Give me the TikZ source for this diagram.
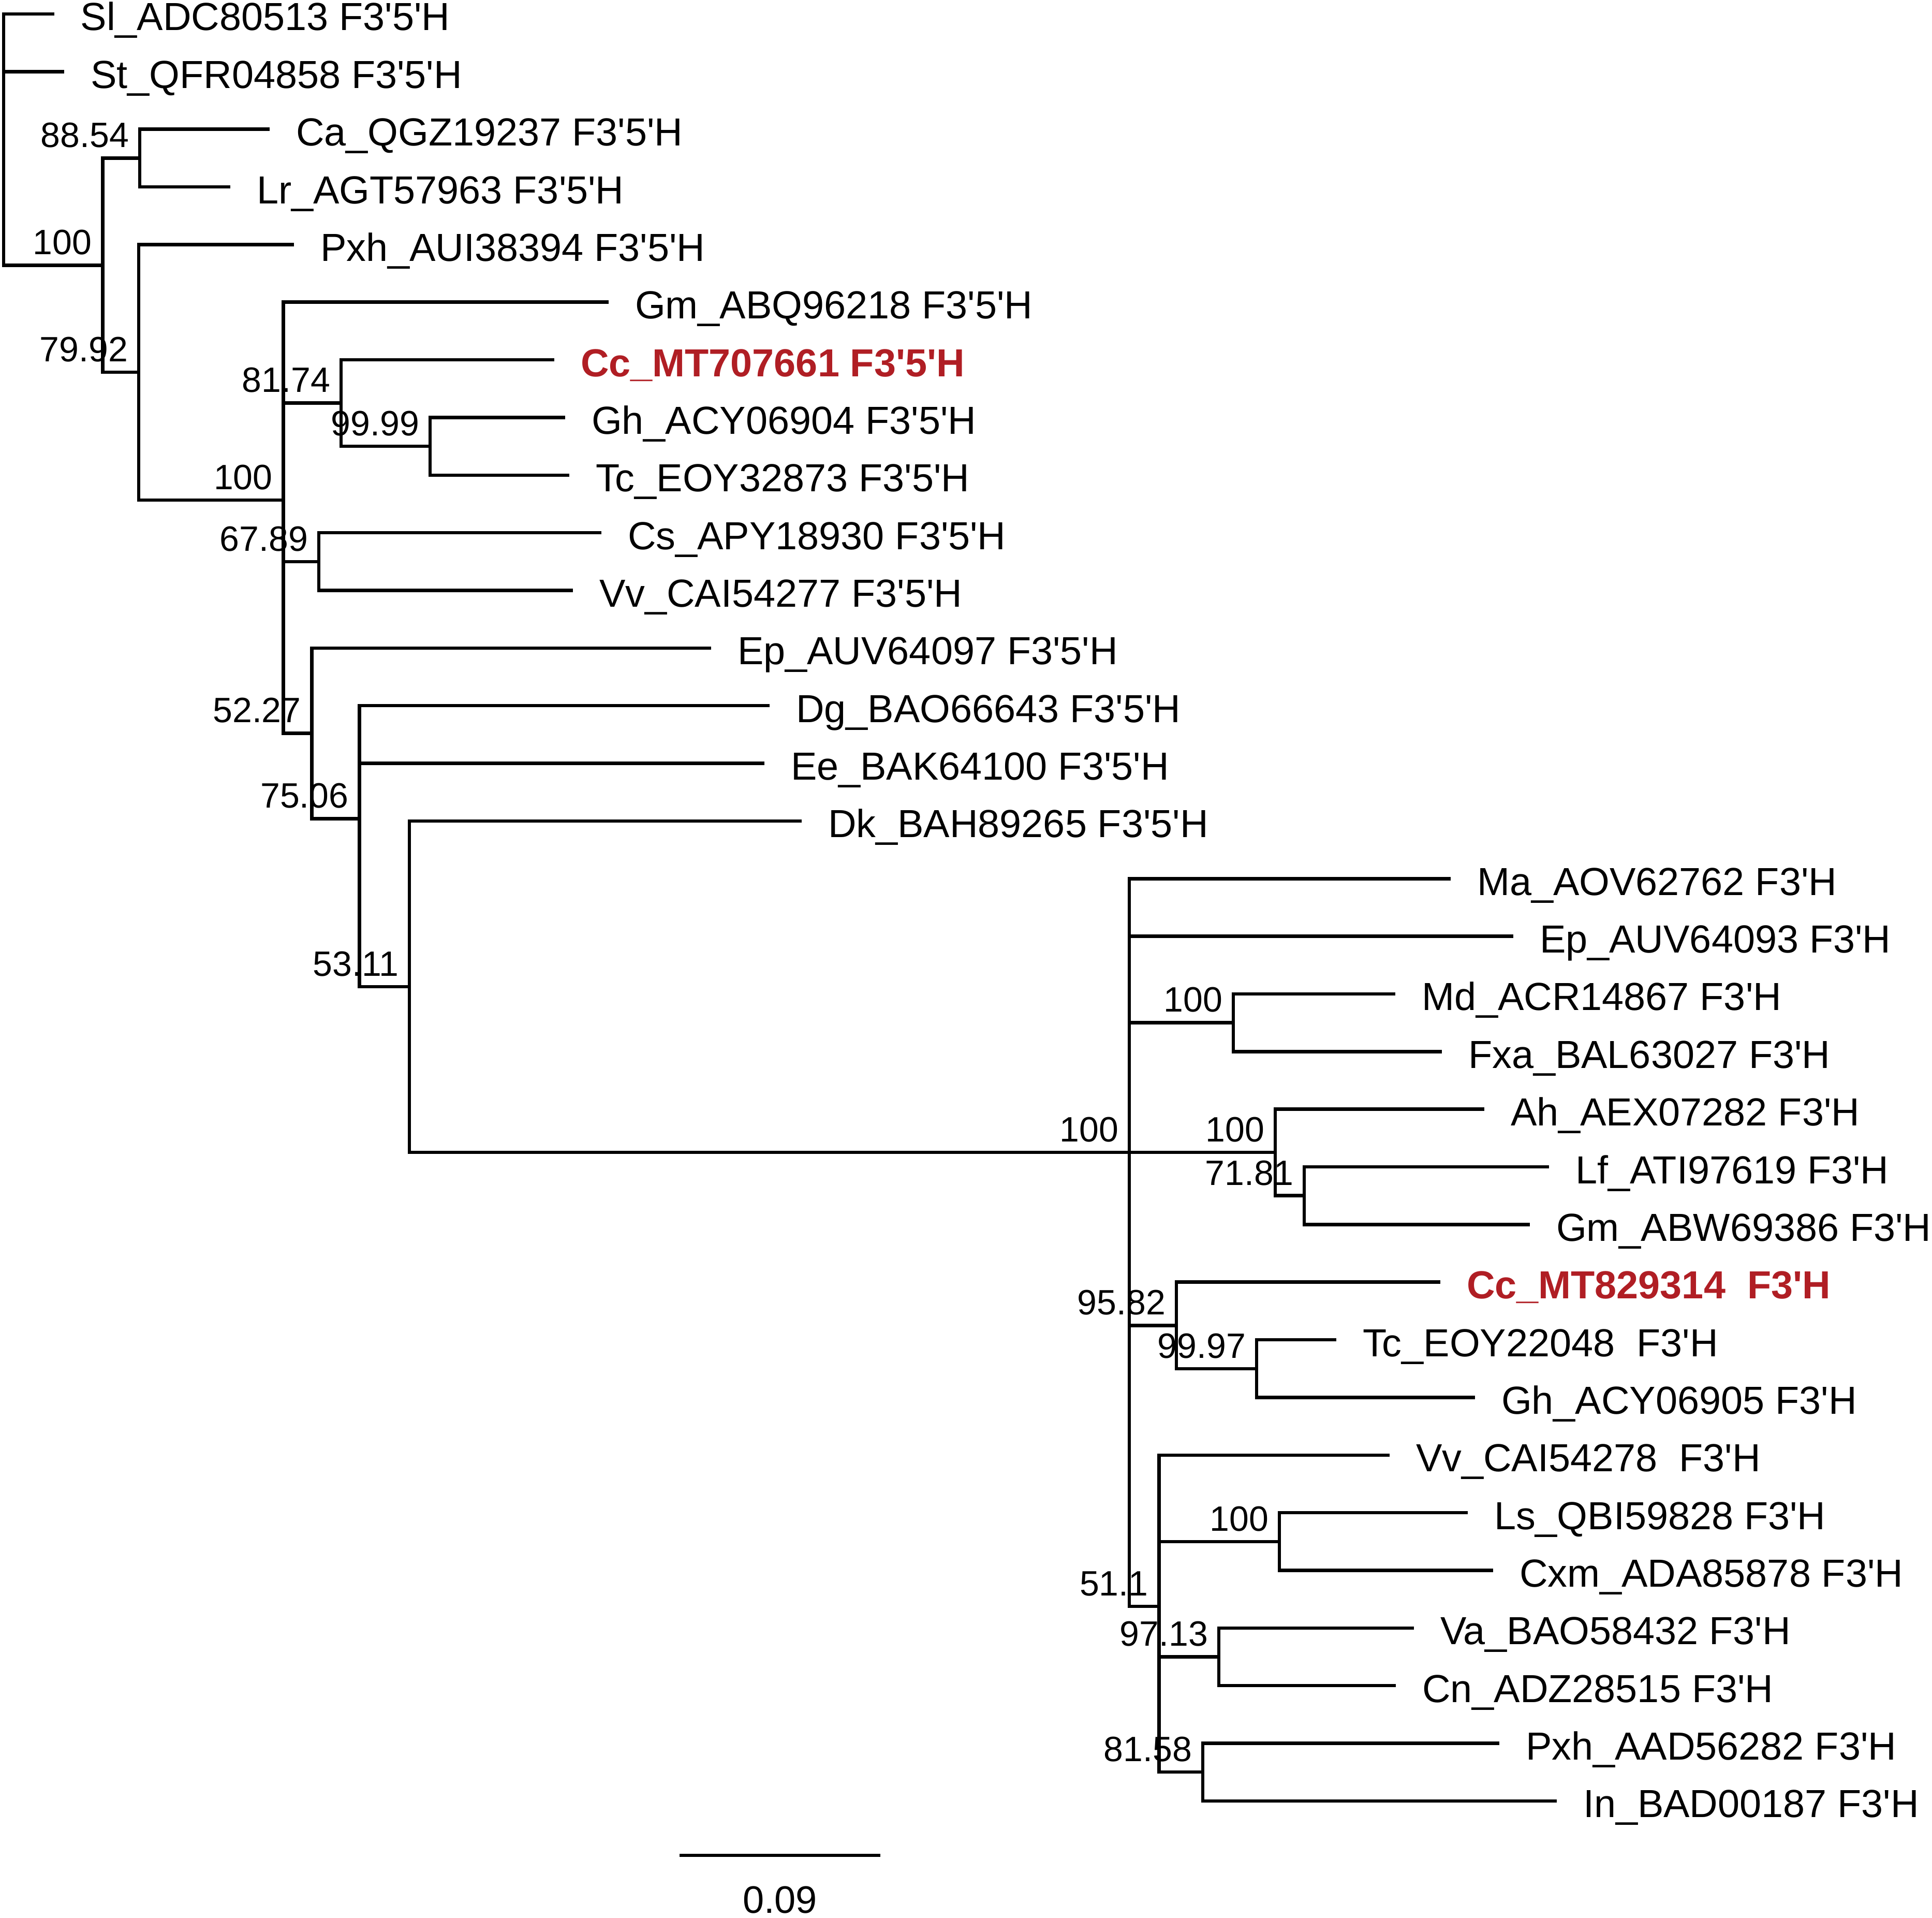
\documentclass[tikz,border=0pt]{standalone}
\usepackage{fontspec}
\setmainfont{Liberation Sans}[Ligatures=TeXOff]
\usetikzlibrary{calc}
\definecolor{hl}{RGB}{176,30,36}
\begin{document}
\begin{tikzpicture}[x=0.2pt, y=-22.27pt,
  br/.style={line width=1.3pt, line join=miter, line cap=butt},
  leaf/.style={anchor=base west, inner sep=0pt, font=\fontsize{15.12pt}{18pt}\selectfont, xshift=10pt, yshift=-6.4pt},
  hlleaf/.style={leaf, font=\fontsize{15.12pt}{18pt}\selectfont\bfseries, text=hl},
  sup/.style={anchor=south east, inner sep=0pt, font=\fontsize{13.6pt}{16pt}\selectfont, xshift=-4pt, yshift=3.8pt},
  scalelab/.style={anchor=base, inner sep=0pt, font=\fontsize{14.8pt}{18pt}\selectfont}]
\useasboundingbox (0,-0.2425) rectangle (3733,33.0225);

% leaf branch ends
\coordinate (e0) at (104.7,0);
\coordinate (e1) at (124,1);
\coordinate (e2) at (521,2);
\coordinate (e3) at (445,3);
\coordinate (e4) at (568,4);
\coordinate (e5) at (1176,5);
\coordinate (e6) at (1071,6);
\coordinate (e7) at (1092,7);
\coordinate (e8) at (1100,8);
\coordinate (e9) at (1162,9);
\coordinate (e10) at (1107,10);
\coordinate (e11) at (1374,11);
\coordinate (e12) at (1487,12);
\coordinate (e13) at (1477,13);
\coordinate (e14) at (1549,14);
\coordinate (e15) at (2803,15);
\coordinate (e16) at (2924,16);
\coordinate (e17) at (2696,17);
\coordinate (e18) at (2786,18);
\coordinate (e19) at (2868,19);
\coordinate (e20) at (2993,20);
\coordinate (e21) at (2956,21);
\coordinate (e22) at (2783,22);
\coordinate (e23) at (2582,23);
\coordinate (e24) at (2850,24);
\coordinate (e25) at (2685,25);
\coordinate (e26) at (2836,26);
\coordinate (e27) at (2885,27);
\coordinate (e28) at (2732,28);
\coordinate (e29) at (2697,29);
\coordinate (e30) at (2897,30);
\coordinate (e31) at (3008,31);

% internal nodes
\coordinate (nR) at (7,2);
\coordinate (nA) at (198.3,4.3581);
\coordinate (nB) at (270,2.5);
\coordinate (nC) at (268,6.2161);
\coordinate (nD) at (547.5,8.4323);
\coordinate (nE) at (659,6.75);
\coordinate (nF) at (831,7.5);
\coordinate (nG) at (616,9.5);
\coordinate (nH) at (602.6,12.4792);
\coordinate (nI) at (694.5,13.9583);
\coordinate (nJ) at (791,16.875);
\coordinate (nK) at (2182,19.75);
\coordinate (nL) at (2383,17.5);
\coordinate (nM) at (2464,19.75);
\coordinate (nN) at (2520,20.5);
\coordinate (nO) at (2273,22.75);
\coordinate (nQ) at (2428,23.5);
\coordinate (nP) at (2239.5,27.625);
\coordinate (nS2) at (2472,26.5);
\coordinate (nS) at (2355,28.5);
\coordinate (nT) at (2324,30.5);

% branches
\draw[br] (e0) -| (nR) |- (nA);
\draw[br] (e1 -| nR) -- (e1);
\draw[br] (nB) -| (nA) |- (nC);
\draw[br] (e2) -| (nB) |- (e3);
\draw[br] (e4) -| (nC) |- (nD);
\draw[br] (e5) -| (nD) |- (nH);
\draw[br] (nE -| nD) -- (nE);
\draw[br] (nG -| nD) -- (nG);
\draw[br] (e6) -| (nE) |- (nF);
\draw[br] (e7) -| (nF) |- (e8);
\draw[br] (e9) -| (nG) |- (e10);
\draw[br] (e11) -| (nH) |- (nI);
\draw[br] (e12) -| (nI) |- (nJ);
\draw[br] (e13 -| nI) -- (e13);
\draw[br] (e14) -| (nJ) |- (nK);
\draw[br] (e15) -| (nK) |- (nP);
\draw[br] (e16 -| nK) -- (e16);
\draw[br] (nL -| nK) -- (nL);
\draw[br] (nM -| nK) -- (nM);
\draw[br] (nO -| nK) -- (nO);
\draw[br] (e17) -| (nL) |- (e18);
\draw[br] (e19) -| (nM) |- (nN);
\draw[br] (e20) -| (nN) |- (e21);
\draw[br] (e22) -| (nO) |- (nQ);
\draw[br] (e23) -| (nQ) |- (e24);
\draw[br] (e25) -| (nP) |- (nT);
\draw[br] (nS2 -| nP) -- (nS2);
\draw[br] (nS -| nP) -- (nS);
\draw[br] (e26) -| (nS2) |- (e27);
\draw[br] (e28) -| (nS) |- (e29);
\draw[br] (e30) -| (nT) |- (e31);

% support values
\node[sup] (vA) at (nA) {100};
\node[sup] (vB) at (nB) {88.54};
\node[sup] (vC) at (nC) {79.92};
\node[sup] (vD) at (nD) {100};
\node[sup] (vE) at (nE) {81.74};
\node[sup] (vF) at (nF) {99.99};
\node[sup] (vG) at (nG) {67.89};
\node[sup] (vH) at (nH) {52.27};
\node[sup] (vI) at (nI) {75.06};
\node[sup] (vJ) at (nJ) {53.11};
\node[sup] (vK) at (nK) {100};
\node[sup] (vL) at (nL) {100};
\node[sup] (vM) at (nM) {100};
\node[sup] (vN) at (nN) {71.81};
\node[sup] (vO) at (nO) {95.82};
\node[sup] (vQ) at (nQ) {99.97};
\node[sup] (vP) at (nP) {51.1};
\node[sup] (vS2) at (nS2) {100};
\node[sup] (vS) at (nS) {97.13};
\node[sup] (vT) at (nT) {81.58};

% leaf labels
\node[leaf] (t0) at (e0) {Sl\_ADC80513 F3'5'H};
\node[leaf] (t1) at (e1) {St\_QFR04858 F3'5'H};
\node[leaf] (t2) at (e2) {Ca\_QGZ19237 F3'5'H};
\node[leaf] (t3) at (e3) {Lr\_AGT57963 F3'5'H};
\node[leaf] (t4) at (e4) {Pxh\_AUI38394 F3'5'H};
\node[leaf] (t5) at (e5) {Gm\_ABQ96218 F3'5'H};
\node[hlleaf] (t6) at (e6) {Cc\_MT707661 F3'5'H};
\node[leaf] (t7) at (e7) {Gh\_ACY06904 F3'5'H};
\node[leaf] (t8) at (e8) {Tc\_EOY32873 F3'5'H};
\node[leaf] (t9) at (e9) {Cs\_APY18930 F3'5'H};
\node[leaf] (t10) at (e10) {Vv\_CAI54277 F3'5'H};
\node[leaf] (t11) at (e11) {Ep\_AUV64097 F3'5'H};
\node[leaf] (t12) at (e12) {Dg\_BAO66643 F3'5'H};
\node[leaf] (t13) at (e13) {Ee\_BAK64100 F3'5'H};
\node[leaf] (t14) at (e14) {Dk\_BAH89265 F3'5'H};
\node[leaf] (t15) at (e15) {Ma\_AOV62762 F3'H};
\node[leaf] (t16) at (e16) {Ep\_AUV64093 F3'H};
\node[leaf] (t17) at (e17) {Md\_ACR14867 F3'H};
\node[leaf] (t18) at (e18) {Fxa\_BAL63027 F3'H};
\node[leaf] (t19) at (e19) {Ah\_AEX07282 F3'H};
\node[leaf] (t20) at (e20) {Lf\_ATI97619 F3'H};
\node[leaf] (t21) at (e21) {Gm\_ABW69386 F3'H};
\node[hlleaf] (t22) at (e22) {Cc\_MT829314~~F3'H};
\node[leaf] (t23) at (e23) {Tc\_EOY22048~~F3'H};
\node[leaf] (t24) at (e24) {Gh\_ACY06905 F3'H};
\node[leaf] (t25) at (e25) {Vv\_CAI54278~~F3'H};
\node[leaf] (t26) at (e26) {Ls\_QBI59828 F3'H};
\node[leaf] (t27) at (e27) {Cxm\_ADA85878 F3'H};
\node[leaf] (t28) at (e28) {Va\_BAO58432 F3'H};
\node[leaf] (t29) at (e29) {Cn\_ADZ28515 F3'H};
\node[leaf] (t30) at (e30) {Pxh\_AAD56282 F3'H};
\node[leaf] (t31) at (e31) {In\_BAD00187 F3'H};

% scale bar
\coordinate (s1) at (1313,31.944);
\coordinate (s2) at (1701,31.944);
\draw[br] (s1) -- (s2);
\node[scalelab, yshift=-22.2pt] (sl) at ($(s1)!0.5!(s2)$) {0.09};
\end{tikzpicture}
\end{document}
